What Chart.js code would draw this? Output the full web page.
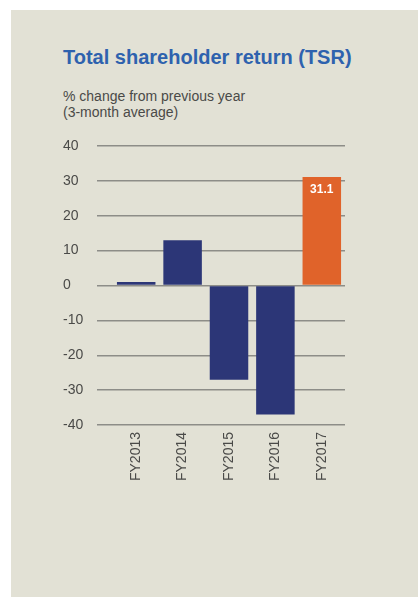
<!DOCTYPE html>
<html>
<head>
<meta charset="utf-8">
<script src="https://cdn.jsdelivr.net/npm/chart.js@4.4.0/dist/chart.umd.min.js"></script>
<style>
  html, body { margin: 0; padding: 0; background: #ffffff; width: 418px; height: 597px; overflow: hidden; }
  #panel { position: absolute; left: 11px; top: 10px; width: 407px; height: 587px; background: #e2e1d5; }
  #title { position: absolute; left: 63px; top: 45px; font: bold 20px "Liberation Sans", Arial, sans-serif; line-height: 24px; color: #2e62ae; white-space: nowrap; }
  #subtitle { position: absolute; left: 63px; top: 88px; font: 14px "Liberation Sans", Arial, sans-serif; line-height: 16px; color: #4a4a48; white-space: nowrap; }
  #wrap { position: absolute; left: 0; top: 0; width: 418px; height: 597px; }
</style>
</head>
<body>
<div id="panel"></div>
<div id="title">Total shareholder return (TSR)</div>
<div id="subtitle">% change from previous year<br>(3-month average)</div>
<div id="wrap"><canvas id="c" width="418" height="597"></canvas></div>
<script>
const categories = ["FY2013", "FY2014", "FY2015", "FY2016", "FY2017"];
const tsrValues = [1.0, 13.0, -27.0, -37.0, 31.1];
const barColors = ["#2c3677", "#2c3677", "#2c3677", "#2c3677", "#e0632a"];
const highlightIndex = 4;
const yMin = -40, yMax = 40, yStep = 10;

const valueLabel = {
  id: 'valueLabel',
  afterDatasetsDraw(chart) {
    const meta = chart.getDatasetMeta(0);
    const bar = meta.data[highlightIndex];
    const ctx = chart.ctx;
    ctx.save();
    ctx.fillStyle = '#ffffff';
    ctx.font = 'bold 12px "Liberation Sans", Arial, sans-serif';
    ctx.textAlign = 'center';
    ctx.textBaseline = 'middle';
    ctx.fillText(String(tsrValues[highlightIndex]), bar.x, bar.y + 13);
    ctx.restore();
  }
};

new Chart(document.getElementById('c'), {
  type: 'bar',
  data: {
    labels: categories,
    datasets: [{
      data: tsrValues,
      backgroundColor: barColors,
      borderWidth: 0,
      categoryPercentage: 1.0,
      barPercentage: 0.83
    }]
  },
  options: {
    responsive: false,
    animation: false,
    devicePixelRatio: 1,
    layout: { padding: { left: 63, right: 73, top: 146, bottom: 112 } },
    plugins: { legend: { display: false }, tooltip: { enabled: false }, title: { display: false } },
    scales: {
      x: {
        grid: { display: false, drawTicks: false },
        border: { display: false },
        ticks: {
          color: '#4a4a48',
          font: { family: '"Liberation Sans", Arial, sans-serif', size: 14 },
          minRotation: 90, maxRotation: 90,
          padding: 7
        },
        afterFit(s) { s.height = 60; }
      },
      y: {
        min: yMin, max: yMax,
        grid: { color: '#8d8d88', lineWidth: 1.5, tickLength: 16, tickColor: '#8d8d88' },
        border: { display: false },
        ticks: {
          stepSize: yStep,
          color: '#4a4a48',
          crossAlign: 'far',
          font: { family: '"Liberation Sans", Arial, sans-serif', size: 14 },
          padding: 4
        },
        afterFit(s) { s.width = 50; }
      }
    }
  },
  plugins: [valueLabel]
});
</script>
</body>
</html>
